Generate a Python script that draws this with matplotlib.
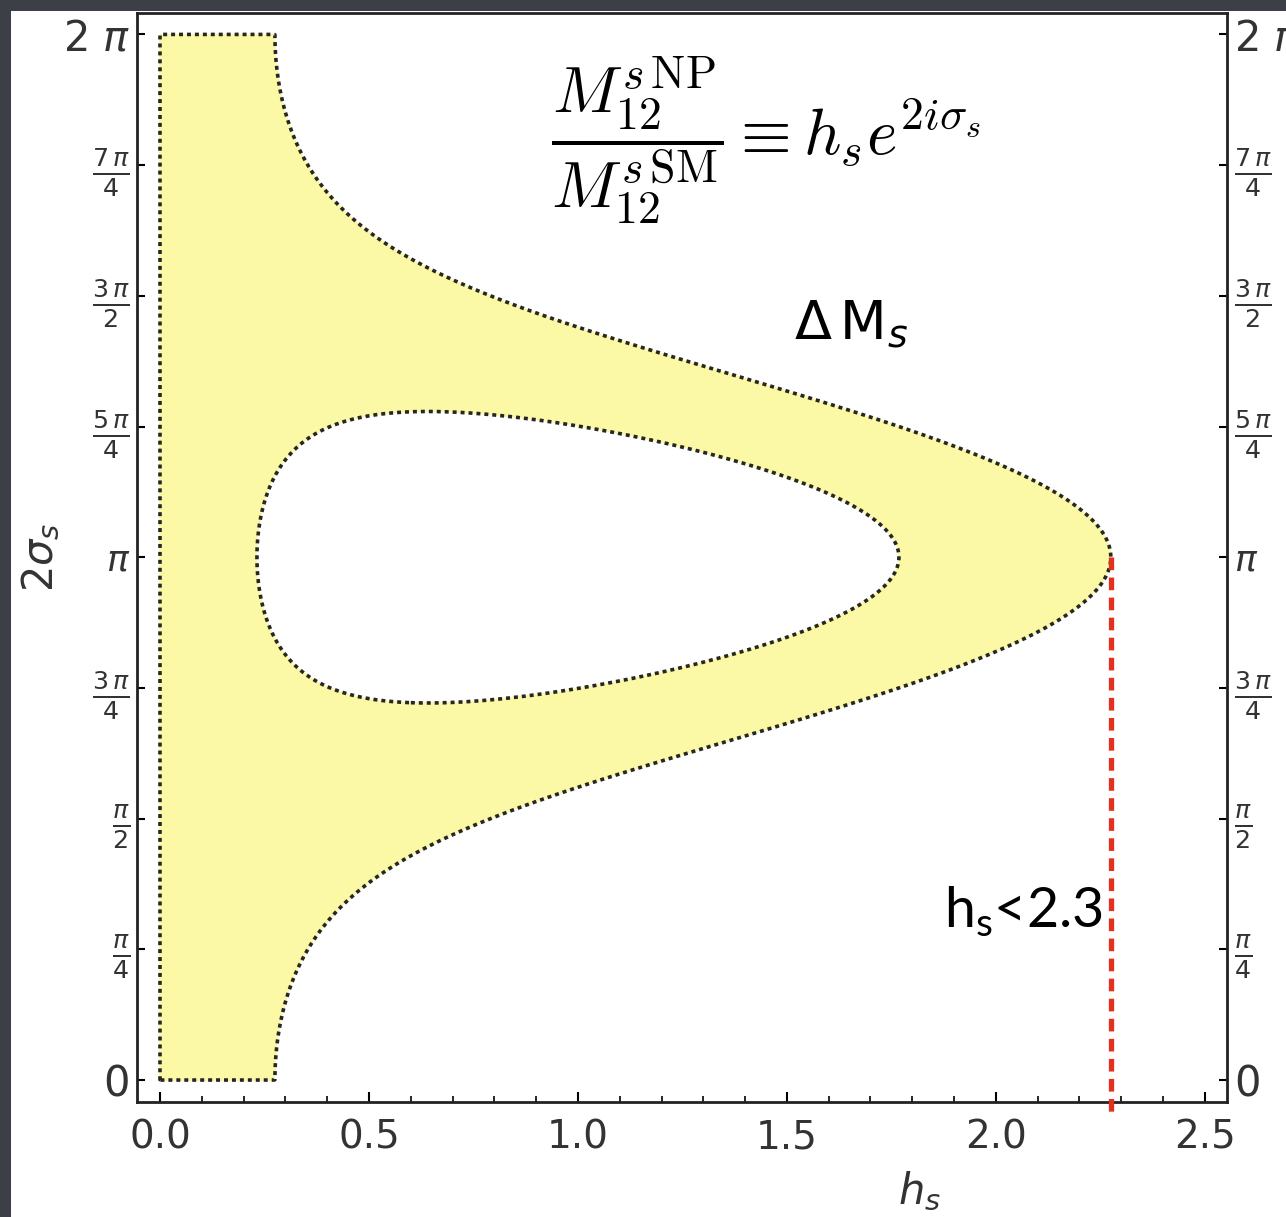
import numpy as np
import matplotlib
matplotlib.use("Agg")
import matplotlib.pyplot as plt
from matplotlib.patches import Rectangle

# allowed range of |1 + h_s e^{2 i sigma_s}| = dMs / dMs(SM)
dms_low = 0.768
dms_high = 1.275
hs_limit_label = "2.3"

x_ticks = [0.0, 0.5, 1.0, 1.5, 2.0, 2.5]
x_ticklabels = ["0.0", "0.5", "1.0", "1.5", "2.0", "2.5"]
y_ticks = [k * np.pi / 4 for k in range(9)]
y_ticklabels = ["0", r"$\frac{\pi}{4}$", r"$\frac{\pi}{2}$", r"$\frac{3\,\pi}{4}$", r"$\pi$",
                r"$\frac{5\,\pi}{4}$", r"$\frac{3\,\pi}{2}$", r"$\frac{7\,\pi}{4}$", r"2 $\pi$"]
y_label_sizes = [30, 26, 26, 26, 26, 26, 26, 26, 30]

fig = plt.figure(figsize=(12.86, 12.17), dpi=100)
fig.patch.set_facecolor("#3c3f46")
fig.add_artist(Rectangle((11 / 1286, 0), 1, 1 - 11 / 1217, transform=fig.transFigure,
                         facecolor="white", edgecolor="none", zorder=-10))

ax = fig.add_axes([137 / 1286, 115 / 1217, 1090 / 1286, 1089 / 1217])
ax.set_xlim(-0.055, 2.553)
ax.set_ylim(-0.132, 2 * np.pi * 1.0205)

# region: dms_low <= |1 + h e^{i phi}| <= dms_high inside 0<=h, 0<=phi<=2pi
h = np.linspace(-0.05, 2.6, 1400)
phi = np.linspace(-0.1, 2 * np.pi + 0.1, 1400)
H, P = np.meshgrid(h, phi)
r = np.abs(1 + H * np.exp(1j * P))
f = np.minimum.reduce([r - dms_low, dms_high - r, H, P, 2 * np.pi - P])

ax.contourf(H, P, f, levels=[0, 10], colors=["#fbf8a6"], zorder=1)
ax.contour(H, P, f, levels=[0], colors="#262626", linewidths=2.6,
           linestyles=[(0, (1.1, 1.1))], zorder=2)

# upper limit on h_s
hs_max = 1 + dms_high
ax.plot([hs_max, hs_max], [np.pi, -0.2], color="#e3311d", lw=3.8,
        linestyle=(0, (2.4, 1.4)), clip_on=False, zorder=3)

ax.set_xticks(x_ticks)
ax.set_xticklabels(x_ticklabels)
ax.set_xticks(np.arange(0, 2.55, 0.1), minor=True)
ax.set_yticks(y_ticks)
ax.set_yticklabels(y_ticklabels)
ax.tick_params(axis="x", which="major", direction="in", length=7, width=1.5,
               labelsize=28, labelcolor="#333333", pad=12)
ax.tick_params(axis="x", which="minor", direction="in", length=4, width=1.2)
ax.tick_params(axis="y", which="major", direction="in", length=6, width=1.5,
               labelcolor="#333333", left=True, right=True, labelleft=True, labelright=True, pad=5)
for t, s in zip(ax.yaxis.get_major_ticks(), y_label_sizes):
    t.label1.set_fontsize(s)
    t.label2.set_fontsize(s)
for sp in ax.spines.values():
    sp.set_linewidth(2)
    sp.set_color("#222222")

ax.set_xlabel(r"$h_s$", fontsize=30, color="#333333")
ax.xaxis.set_label_coords(0.718, -0.062)
ax.set_ylabel(r"$2\sigma_s$", fontsize=30, color="#333333")
ax.yaxis.set_label_coords(-0.069, 0.5)

ax.text(0.577, 0.882,
        r"$\dfrac{M_{12}^{s\,\mathrm{NP}}}{M_{12}^{s\,\mathrm{SM}}} \equiv h_s e^{2i\sigma_s}$",
        transform=ax.transAxes, ha="center", va="center", fontsize=47, math_fontfamily="cm")
ax.text(0.655, 0.714, r"$\mathregular{\Delta\,M}_s$", transform=ax.transAxes,
        ha="center", va="center", fontsize=39)
ax.text(0.886, 0.175, r"h$_\mathregular{s}$<" + hs_limit_label, transform=ax.transAxes,
        ha="right", va="center", fontsize=40, family="Lato")

fig.savefig("out.png", dpi=100, facecolor=fig.get_facecolor())
